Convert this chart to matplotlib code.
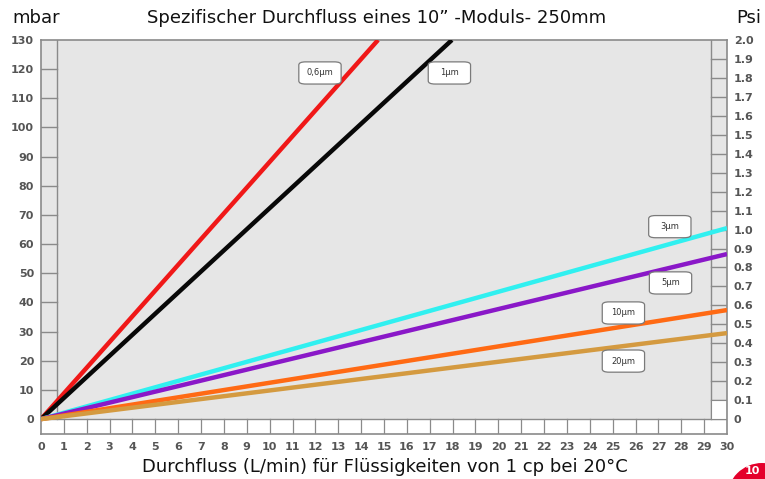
import numpy as np
import matplotlib as mpl
mpl.use('Agg')
import matplotlib.pyplot as plt
from matplotlib.patches import Rectangle, Ellipse, FancyBboxPatch

# filter grades, end points of each straight line (flow L/min, pressure mbar)
labels = ['0,6µm', '1µm', '3µm', '5µm', '10µm', '20µm']
flow_end = [14.74, 17.97, 30, 30, 30, 30]
mbar_end = [130, 130, 65.5, 56.6, 37.4, 29.5]
colors = ['#f01818', '#080808', '#30f0f0', '#8a18c8', '#ff6a14', '#d49a40']
# label box centres (flow, mbar)
lab_x = [12.2, 17.86, 27.5, 27.53, 25.47, 25.47]
lab_y = [118.7, 118.7, 66, 46.7, 36.4, 19.9]

mbar_ticks = list(range(0, 131, 10))
psi_ticks = [round(0.1 * i, 1) for i in range(21)]
flow_ticks = list(range(0, 31))

W, H = 765, 479
fig = plt.figure(figsize=(W / 100, H / 100), dpi=100)
ax = fig.add_axes([41 / W, (H - 434) / H, 686 / W, 394 / H])
ax.set_facecolor('#e6e6e6')
ax.set_xlim(0, 30)
ax.set_ylim(-5.1, 130)
grey = '#8a8a8a'

for s in ax.spines.values():
    s.set_color(grey)
    s.set_linewidth(1.2)

# bottom strip with cells
ax.add_patch(Rectangle((0, -5.1), 30, 5.1, facecolor='white', edgecolor='none', zorder=1))
ax.axhline(0, color=grey, lw=1, zorder=2)
for f in flow_ticks[1:-1]:
    ax.plot([f, f], [-5.1, 0], color=grey, lw=0.9, zorder=2)

# left strip with mbar ticks
ax.plot([0.7, 0.7], [0, 130], color=grey, lw=1, zorder=2)
for m in mbar_ticks[1:-1]:
    ax.plot([0, 0.7], [m, m], color=grey, lw=1, zorder=2)

# right strip with psi ticks
x0 = 29.3
ax.plot([x0, x0], [0, 130], color=grey, lw=1, zorder=2)
for p in psi_ticks[1:-1]:
    ax.plot([x0, 30], [p * 65, p * 65], color=grey, lw=1, zorder=2)
ax.add_patch(Rectangle((x0, 0), 30 - x0, 6.5, facecolor='white', edgecolor=grey, lw=0.8, zorder=2))

for fe, me, c in zip(flow_end, mbar_end, colors):
    ax.plot([0, fe], [0, me], color=c, lw=3.2, solid_capstyle='butt', zorder=3)

# label boxes, fixed size like the original
bw, bh = 1.85, 7.6
for t, lx, ly in zip(labels, lab_x, lab_y):
    ax.add_patch(FancyBboxPatch((lx - bw / 2, ly - bh / 2), bw, bh,
                                boxstyle='round,pad=0,rounding_size=0.3', mutation_aspect=3.5,
                                fc='white', ec='#7a7a7a', lw=0.9, zorder=4))
    ax.text(lx, ly, t, fontsize=6, color='#333333', ha='center', va='center', zorder=5)

tick_font = dict(size=8, weight='bold')
ax.set_xticks(flow_ticks)
ax.set_xticklabels([str(f) for f in flow_ticks], **tick_font)
ax.set_yticks(mbar_ticks)
ax.set_yticklabels([str(m) for m in mbar_ticks], **tick_font)
ax.tick_params(axis='both', length=0, labelcolor='#555555', pad=5)
ax.tick_params(axis='x', pad=6)

ax2 = ax.twinx()
ax2.set_ylim(-5.1 / 65, 2.0)
ax2.set_yticks(psi_ticks)
ax2.set_yticklabels(['0'] + [f'{p:.1f}' for p in psi_ticks[1:]], **tick_font)
ax2.tick_params(axis='y', length=0, labelcolor='#555555', pad=5)
for s in ax2.spines.values():
    s.set_visible(False)

fig.text(12 / W, 1 - 18 / H, 'mbar', fontsize=13, va='center', ha='left', color='#111111')
fig.text(761 / W, 1 - 18 / H, 'Psi', fontsize=13, va='center', ha='right', color='#111111')
fig.text(377 / W, 1 - 18 / H, 'Spezifischer Durchfluss eines 10” -Moduls- 250mm', fontsize=13,
         va='center', ha='center', color='#111111')
fig.text(385 / W, 1 - 467 / H, 'Durchfluss (L/min) für Flüssigkeiten von 1 cp bei 20°C', fontsize=13,
         va='center', ha='center', color='#111111')

# red page badge in the corner, mostly cut off
fig.patches.append(Ellipse((762 / W, 1 - 498 / H), 70 / W, 70 / H, transform=fig.transFigure,
                           facecolor='#e4002b', edgecolor='none'))
fig.text(752 / W, 1 - 466 / H, '10', fontsize=8, weight='bold', color='white', ha='center', va='top')

fig.savefig('out.png', dpi=100)
